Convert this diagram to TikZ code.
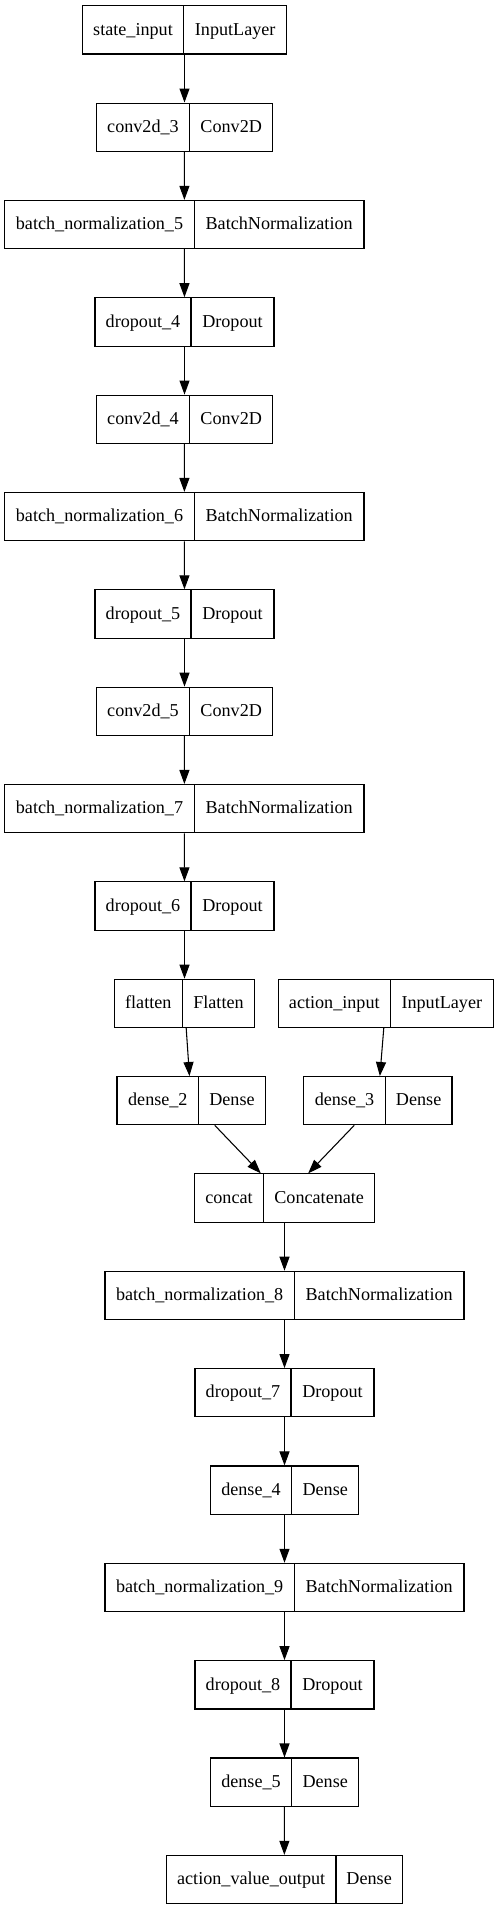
\documentclass[tikz,border=0pt]{standalone}
\usepackage{fontspec}
\setmainfont{Liberation Serif}
\usetikzlibrary{arrows.meta}
\tikzset{
  layerbox/.style={draw=black, line width=0.8pt, inner sep=0pt, minimum height=36.225pt},
  lbl/.style={anchor=base, inner sep=0pt, font=\fontsize{13.6}{16}\selectfont},
  divider/.style={draw=black, line width=0.8pt},
  arr/.style={draw=black, line width=0.8pt, -{Triangle[length=10.5pt,width=7.5pt]}},
}
% #1 name, #2 left x, #3 divider x, #4 right x, #5 row, #6 left text, #7 right text
\newcommand{\layer}[7]{%
  \pgfmathsetmacro{\ltop}{5.7+97.35*#5}%
  \pgfmathsetmacro{\lbot}{\ltop+48.3}%
  \pgfmathsetmacro{\lcy}{\ltop+24.15}%
  \pgfmathsetmacro{\lw}{(#4-#2)*0.75}%
  \node[layerbox, minimum width=\lw pt] (#1) at ({(#2+#4)/2},\lcy) {};
  \draw[divider] (#3,\ltop) -- (#3,\lbot);
  \node[lbl] (#1-l) at ({(#2+#3)/2},{\lcy+5.2}) {#6};
  \node[lbl] (#1-r) at ({(#3+#4)/2},{\lcy+5.2}) {#7};
}
\begin{document}
\begin{tikzpicture}[x=0.75pt,y=-0.75pt]
\useasboundingbox (0,0) rectangle (499,1909);
\layer{stateinput}{82.3}{183.7}{286.7}{0}{state\_input}{InputLayer}
\layer{convA}{96.3}{189.7}{272.7}{1}{conv2d\_3}{Conv2D}
\layer{bnA}{4.7}{194.3}{364}{2}{batch\_normalization\_5}{BatchNormalization}
\layer{dropA}{95}{191}{274}{3}{dropout\_4}{Dropout}
\layer{convB}{96.3}{189.7}{272.7}{4}{conv2d\_4}{Conv2D}
\layer{bnB}{4.7}{194.3}{364}{5}{batch\_normalization\_6}{BatchNormalization}
\layer{dropB}{95}{191}{274}{6}{dropout\_5}{Dropout}
\layer{convC}{96.3}{189.7}{272.7}{7}{conv2d\_5}{Conv2D}
\layer{bnC}{4.7}{194.3}{364}{8}{batch\_normalization\_7}{BatchNormalization}
\layer{dropC}{95}{191}{274}{9}{dropout\_6}{Dropout}
\layer{flatten}{114.3}{182.3}{254.7}{10}{flatten}{Flatten}
\layer{actioninput}{278.3}{390.3}{493.3}{10}{action\_input}{InputLayer}
\layer{denseA}{117}{198.7}{265.3}{11}{dense\_2}{Dense}
\layer{denseB}{303.7}{385.3}{452}{11}{dense\_3}{Dense}
\layer{concat}{194.3}{263.7}{374.7}{12}{concat}{Concatenate}
\layer{bnD}{105}{294.3}{464}{13}{batch\_normalization\_8}{BatchNormalization}
\layer{dropD}{195}{291}{374}{14}{dropout\_7}{Dropout}
\layer{denseC}{210.3}{291.7}{358.7}{15}{dense\_4}{Dense}
\layer{bnE}{105}{294.3}{464}{16}{batch\_normalization\_9}{BatchNormalization}
\layer{dropE}{195}{291}{374}{17}{dropout\_8}{Dropout}
\layer{denseD}{210.3}{291.7}{358.7}{18}{dense\_5}{Dense}
\layer{avo}{166.3}{336}{402.3}{19}{action\_value\_output}{Dense}

\draw[arr] (stateinput) -- (convA);
\draw[arr] (convA) -- (bnA);
\draw[arr] (bnA) -- (dropA);
\draw[arr] (dropA) -- (convB);
\draw[arr] (convB) -- (bnB);
\draw[arr] (bnB) -- (dropB);
\draw[arr] (dropB) -- (convC);
\draw[arr] (convC) -- (bnC);
\draw[arr] (bnC) -- (dropC);
\draw[arr] (dropC) -- (flatten);
\draw[arr] (flatten) -- (denseA);
\draw[arr] (actioninput) -- (denseB);
\draw[arr] (denseA) -- (concat);
\draw[arr] (denseB) -- (concat);
\draw[arr] (concat) -- (bnD);
\draw[arr] (bnD) -- (dropD);
\draw[arr] (dropD) -- (denseC);
\draw[arr] (denseC) -- (bnE);
\draw[arr] (bnE) -- (dropE);
\draw[arr] (dropE) -- (denseD);
\draw[arr] (denseD) -- (avo);
\end{tikzpicture}
\end{document}
